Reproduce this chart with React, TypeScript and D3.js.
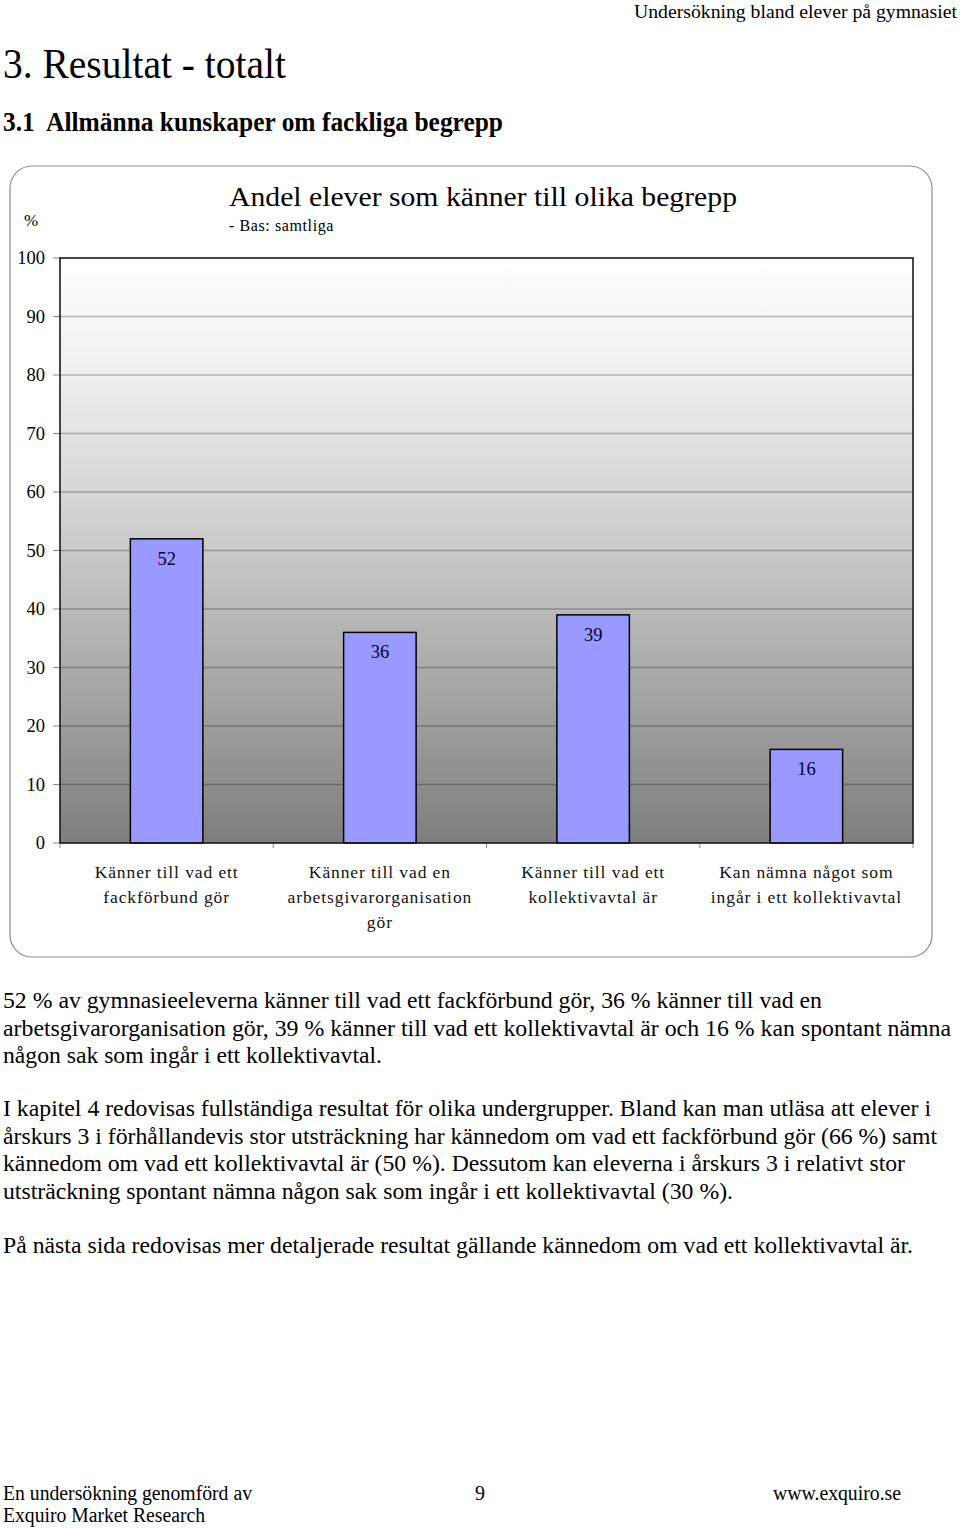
import React from 'react';
import * as d3 from 'd3';

// ---------- data ----------
const categories = ['fackforbund', 'arbetsgivarorg', 'kollektivavtal', 'ingar'];
const categoryLabels = [
  ['Känner till vad ett', 'fackförbund gör'],
  ['Känner till vad en', 'arbetsgivarorganisation', 'gör'],
  ['Känner till vad ett', 'kollektivavtal är'],
  ['Kan nämna något som', 'ingår i ett kollektivavtal'],
];
const values = [52, 36, 39, 16];
const yTicks = [0, 10, 20, 30, 40, 50, 60, 70, 80, 90, 100];

const chartTitle = 'Andel elever som känner till olika begrepp';
const chartSubtitle = '- Bas: samtliga';
const yUnit = '%';

const pageHeader = 'Undersökning bland elever på gymnasiet';
const heading1 = '3. Resultat - totalt';
const heading2 = '3.1  Allmänna kunskaper om fackliga begrepp';

const paragraph1 = [
  '52 % av gymnasieeleverna känner till vad ett fackförbund gör, 36 % känner till vad en',
  'arbetsgivarorganisation gör, 39 % känner till vad ett kollektivavtal är och 16 % kan spontant nämna',
  'någon sak som ingår i ett kollektivavtal.',
];
const paragraph2 = [
  'I kapitel 4 redovisas fullständiga resultat för olika undergrupper. Bland kan man utläsa att elever i',
  'årskurs 3 i förhållandevis stor utsträckning har kännedom om vad ett fackförbund gör (66 %) samt',
  'kännedom om vad ett kollektivavtal är (50 %). Dessutom kan eleverna i årskurs 3 i relativt stor',
  'utsträckning spontant nämna någon sak som ingår i ett kollektivavtal (30 %).',
];
const paragraph3 = [
  'På nästa sida redovisas mer detaljerade resultat gällande kännedom om vad ett kollektivavtal är.',
];
const footerLeft = ['En undersökning genomförd av', 'Exquiro Market Research'];
const footerPage = '9';
const footerRight = 'www.exquiro.se';

// ---------- layout ----------
const W = 960;
const H = 1528;
const SERIF = '"Liberation Serif", "Times New Roman", Times, serif';
const plot = { left: 60, right: 913, top: 258, bottom: 843 };
const p1Widths = [819, 948, 379];
const p2Widths = [928, 934, 902, 730];
const p3Widths = [910];

export default function App() {
  const x = d3
    .scaleBand<string>()
    .domain(categories)
    .range([plot.left, plot.right])
    .paddingInner(0.66)
    .paddingOuter(0.33);
  const y = d3.scaleLinear().domain([0, 100]).range([plot.bottom, plot.top]);
  const step = x.step();
  const boundaries = d3.range(categories.length + 1).map((i) => plot.left + i * step);

  const bodyLines = (lines: string[], widths: number[], y0: number) =>
    lines.map((t, i) => (
      <text
        key={i}
        x={3}
        y={y0 + i * 27.5}
        fontSize={23}
        textLength={widths[i]}
        lengthAdjust="spacingAndGlyphs"
        fill="#000"
      >
        {t}
      </text>
    ));

  return (
    <svg
      width={W}
      height={H}
      viewBox={`0 0 ${W} ${H}`}
      style={{ position: 'absolute', left: 0, top: 0, background: '#fff' }}
      fontFamily={SERIF}
    >
      <defs>
        <linearGradient id="plotBg" x1="0" y1="0" x2="0" y2="1">
          <stop offset="0" stopColor="#ffffff" />
          <stop offset="0.2" stopColor="#efefef" />
          <stop offset="0.45" stopColor="#d0d0d0" />
          <stop offset="0.75" stopColor="#a4a4a4" />
          <stop offset="1" stopColor="#7e7e7e" />
        </linearGradient>
      </defs>

      {/* page header */}
      <text x={957} y={18} fontSize={19} textAnchor="end" textLength={323} lengthAdjust="spacingAndGlyphs">
        {pageHeader}
      </text>
      <text x={3} y={78} fontSize={43} textLength={283} lengthAdjust="spacingAndGlyphs">
        {heading1}
      </text>
      <text
        x={3}
        y={131}
        fontSize={27}
        fontWeight="bold"
        textLength={500}
        lengthAdjust="spacingAndGlyphs"
        style={{ whiteSpace: 'pre' }}
      >
        {heading2}
      </text>

      {/* chart frame */}
      <rect x={10} y={166} width={922} height={791} rx={22} ry={22} fill="#fff" stroke="#8c8c8c" strokeWidth={1.2} />

      {/* titles */}
      <text x={229} y={206} fontSize={27} textLength={508} lengthAdjust="spacingAndGlyphs">
        {chartTitle}
      </text>
      <text x={229} y={231} fontSize={16} letterSpacing={0.6}>
        {chartSubtitle}
      </text>
      <text x={31} y={226} fontSize={17} textAnchor="middle">
        {yUnit}
      </text>

      {/* plot background */}
      <rect
        x={plot.left}
        y={plot.top}
        width={plot.right - plot.left}
        height={plot.bottom - plot.top}
        fill="url(#plotBg)"
      />

      {/* grid lines */}
      {yTicks
        .filter((t) => t > 0 && t < 100)
        .map((t) => (
          <line
            key={t}
            x1={plot.left}
            x2={plot.right}
            y1={y(t)}
            y2={y(t)}
            stroke="rgba(0,0,0,0.26)"
            strokeWidth={1.3}
          />
        ))}

      {/* y ticks and labels */}
      {yTicks.map((t) => (
        <g key={t}>
          <line x1={plot.left - 7} x2={plot.left} y1={y(t)} y2={y(t)} stroke="#888" strokeWidth={1} />
          <text x={45} y={y(t)} dy="0.35em" fontSize={18.5} textAnchor="end">
            {t}
          </text>
        </g>
      ))}

      {/* x boundary ticks */}
      {boundaries.map((bx, i) => (
        <line key={i} x1={bx} x2={bx} y1={plot.bottom} y2={plot.bottom + 5} stroke="#888" strokeWidth={1} />
      ))}

      {/* bars */}
      {categories.map((c, i) => (
        <rect
          key={c}
          x={x(c)}
          y={y(values[i])}
          width={x.bandwidth()}
          height={y(0) - y(values[i])}
          fill="#9999ff"
          stroke="#000"
          strokeWidth={1.5}
        />
      ))}

      {/* value labels */}
      {categories.map((c, i) => (
        <text
          key={c}
          x={(x(c) as number) + x.bandwidth() / 2}
          y={y(values[i]) + 26}
          fontSize={18.5}
          textAnchor="middle"
          fill="#000033"
        >
          {values[i]}
        </text>
      ))}

      {/* plot border */}
      <rect
        x={plot.left}
        y={plot.top}
        width={plot.right - plot.left}
        height={plot.bottom - plot.top}
        fill="none"
        stroke="#1a1a1a"
        strokeWidth={1.6}
      />

      {/* category labels */}
      {categories.map((c, i) => (
        <text
          key={c}
          x={(x(c) as number) + x.bandwidth() / 2}
          fontSize={17.5}
          textAnchor="middle"
          letterSpacing={0.9}
          fill="#111"
        >
          {categoryLabels[i].map((line, j) => (
            <tspan key={j} x={(x(c) as number) + x.bandwidth() / 2} y={878 + j * 25}>
              {line}
            </tspan>
          ))}
        </text>
      ))}

      {/* body text */}
      {bodyLines(paragraph1, p1Widths, 1008)}
      {bodyLines(paragraph2, p2Widths, 1116)}
      {bodyLines(paragraph3, p3Widths, 1253)}

      {/* footer */}
      <text x={3} y={1500} fontSize={20} textLength={249} lengthAdjust="spacingAndGlyphs">
        {footerLeft[0]}
      </text>
      <text x={3} y={1522} fontSize={20} textLength={202} lengthAdjust="spacingAndGlyphs">
        {footerLeft[1]}
      </text>
      <text x={480} y={1500} fontSize={20} textAnchor="middle">
        {footerPage}
      </text>
      <text x={773} y={1500} fontSize={20} textLength={128} lengthAdjust="spacingAndGlyphs">
        {footerRight}
      </text>
    </svg>
  );
}
